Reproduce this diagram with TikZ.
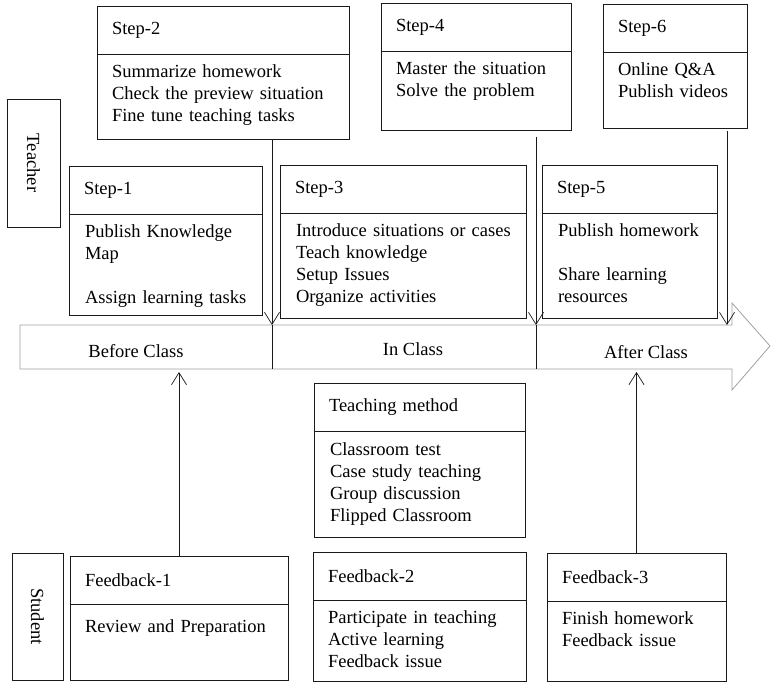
\documentclass[tikz,border=0pt]{standalone}
\usepackage{fontspec}
\setmainfont{Liberation Serif}
\usetikzlibrary{arrows.meta,positioning}
\definecolor{ink}{HTML}{1A1A1A}
\definecolor{band}{HTML}{A0A0A0}

\begin{document}
\begin{tikzpicture}[x=1pt, y=-1pt,
    every node/.style={font=\fontsize{18.5}{22}\selectfont, outer sep=0pt},
    hd/.style={draw=ink, line width=0.8pt, anchor=north west, minimum height=48pt, inner xsep=15pt, align=left},
    bd/.style={draw=ink, line width=0.8pt, inner sep=0pt},
    tx/.style={anchor=base west, inner sep=0pt, align=left},
    role/.style={draw=ink, line width=0.8pt, rotate=-90, inner sep=0pt},
    arr/.style={-{Straight Barb[length=12pt,width=15pt]}, draw=ink, line width=0.7pt}
  ]
  \useasboundingbox (0,0) rectangle (771,682);

  % roles
  \node[role, minimum width=128pt, minimum height=53pt] (teacher) at (33.5,163) {Teacher};
  \node[role, minimum width=127pt, minimum height=51pt] (student) at (37.5,616.5) {Student};

  % teacher steps, upper row
  \node[hd, text width=222pt] (s2h) at (97,6) {Step-2};
  \node[bd, minimum width=252pt, minimum height=85pt, below=0pt of s2h] (s2b) {};
  \node[tx, text width=232pt] (s2t) at ([shift={(15,23.5)}]s2b.north west) {Summarize homework\\Check the preview situation\\Fine tune teaching tasks};

  \node[hd, text width=160pt] (s4h) at (381,3) {Step-4};
  \node[bd, minimum width=190pt, minimum height=79pt, below=0pt of s4h] (s4b) {};
  \node[tx, text width=170pt] (s4t) at ([shift={(15,23.5)}]s4b.north west) {Master the situation\\Solve the problem};

  \node[hd, text width=114pt] (s6h) at (603,4) {Step-6};
  \node[bd, minimum width=144pt, minimum height=76pt, below=0pt of s6h] (s6b) {};
  \node[tx, text width=124pt] (s6t) at ([shift={(15,23.5)}]s6b.north west) {Online Q\&A\\Publish videos};

  % teacher steps, lower row
  \node[hd, text width=163pt] (s1h) at (69,166) {Step-1};
  \node[bd, minimum width=193pt, minimum height=101pt, below=0pt of s1h] (s1b) {};
  \node[tx, text width=173pt] (s1t) at ([shift={(16,23.5)}]s1b.north west) {Publish Knowledge\\Map\\[22pt]Assign learning tasks};

  \node[hd, text width=216pt] (s3h) at (280,165) {Step-3};
  \node[bd, minimum width=246pt, minimum height=105pt, below=0pt of s3h] (s3b) {};
  \node[tx, text width=226pt] (s3t) at ([shift={(16,23.5)}]s3b.north west) {Introduce situations or cases\\Teach knowledge\\Setup Issues\\Organize activities};

  \node[hd, text width=145pt] (s5h) at (542,165) {Step-5};
  \node[bd, minimum width=175pt, minimum height=105pt, below=0pt of s5h] (s5b) {};
  \node[tx, text width=155pt] (s5t) at ([shift={(16,23.5)}]s5b.north west) {Publish homework\\[22pt]Share learning\\resources};

  % time line
  \draw[band, line width=0.8pt] (20,325) -- (732,325) -- (732,303) -- (770,346) -- (732,390) -- (732,369) -- (20,369) -- cycle;
  \coordinate (d1) at (272,325);
  \coordinate (d2) at (536,325);
  \coordinate (d3) at (727,325);
  \coordinate (bb) at (0,372);
  \draw[ink, line width=0.7pt] (d1) -- ++(0,44);
  \draw[ink, line width=0.7pt] (d2) -- ++(0,44);
  \node (before) at (136,351) {Before Class};
  \node (inclass) at (413,349) {In Class};
  \node (after) at (646,352) {After Class};

  % teaching method
  \node[hd, text width=181pt] (tmh) at (314,383) {Teaching method};
  \node[bd, minimum width=211pt, minimum height=106pt, below=0pt of tmh] (tmb) {};
  \node[tx, text width=191pt] (tmt) at ([shift={(16,24)}]tmb.north west) {Classroom test\\Case study teaching\\Group discussion\\Flipped Classroom};

  % student feedback
  \node[hd, text width=188pt] (f1h) at (70,556) {Feedback-1};
  \node[bd, minimum width=218pt, minimum height=76pt, below=0pt of f1h] (f1b) {};
  \node[tx, text width=198pt] (f1t) at ([shift={(15,28)}]f1b.north west) {Review and Preparation};

  \node[hd, text width=183pt] (f2h) at (313,552) {Feedback-2};
  \node[bd, minimum width=213pt, minimum height=81pt, below=0pt of f2h] (f2b) {};
  \node[tx, text width=193pt] (f2t) at ([shift={(15,23.5)}]f2b.north west) {Participate in teaching\\Active learning\\Feedback issue};

  \node[hd, text width=149pt] (f3h) at (547,553) {Feedback-3};
  \node[bd, minimum width=179pt, minimum height=80pt, below=0pt of f3h] (f3b) {};
  \node[tx, text width=159pt] (f3t) at ([shift={(15,23.5)}]f3b.north west) {Finish homework\\Feedback issue};

  \draw[arr] (s2b.south -| d1) -- (d1);
  \draw[arr] ([yshift=-7pt]s4b.south -| d2) -- (d2);
  \draw[arr] ([yshift=-3pt]s6b.south -| d3) -- (d3);
  \draw[arr] (f1h.north) -- (f1h.north |- bb);
  \draw[arr] (f3h.north) -- (f3h.north |- bb);
\end{tikzpicture}
\end{document}
